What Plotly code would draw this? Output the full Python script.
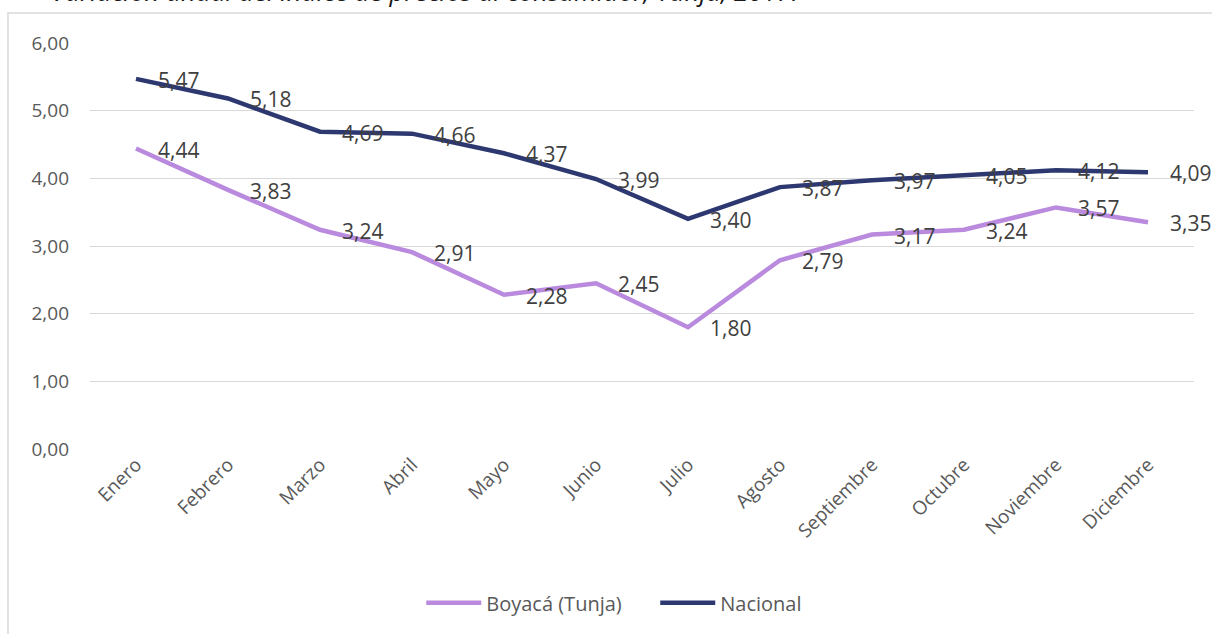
import plotly.graph_objects as go

meses = ["Enero", "Febrero", "Marzo", "Abril", "Mayo", "Junio", "Julio",
         "Agosto", "Septiembre", "Octubre", "Noviembre", "Diciembre"]
boyaca = [4.44, 3.83, 3.24, 2.91, 2.28, 2.45, 1.80, 2.79, 3.17, 3.24, 3.57, 3.35]
nacional = [5.47, 5.18, 4.69, 4.66, 4.37, 3.99, 3.40, 3.87, 3.97, 4.05, 4.12, 4.09]
titulo = "Variación anual del índice de precios al consumidor, Tunja, 2017."

FONT = "Open Sans"
C_BOY = "#B98ADD"
C_NAC = "#2E3870"

fig = go.Figure()
fig.add_trace(go.Scatter(x=meses, y=boyaca, mode="lines", name="Boyacá (Tunja)",
                         line=dict(color=C_BOY, width=4.5)))
fig.add_trace(go.Scatter(x=meses, y=nacional, mode="lines", name="Nacional",
                         line=dict(color=C_NAC, width=4.5)))

annotations = []
for serie in (boyaca, nacional):
    for m, v in zip(meses, serie):
        annotations.append(dict(x=m, y=v, xref="x", yref="y",
                                text=f"{v:.2f}".replace(".", ","),
                                showarrow=False, xanchor="left", yanchor="middle",
                                xshift=20, yshift=-1,
                                font=dict(family=FONT, size=21, color="#404040")))

annotations.append(dict(x=-0.037, y=1.0764, xref="paper", yref="paper", text=f"<i>{titulo}</i>",
                        showarrow=False, xanchor="left", yanchor="bottom", yshift=1,
                        font=dict(family=FONT, size=26, color="#1A1A1A")))

fig.update_layout(
    width=1212, height=634,
    margin=dict(l=90, r=18, t=43, b=185),
    paper_bgcolor="white", plot_bgcolor="white",
    separators=",.",
    showlegend=True,
    legend=dict(orientation="h", x=0.512, y=-0.379, xanchor="center", yanchor="middle",
                itemwidth=55, entrywidth=164,
                font=dict(family=FONT, size=20, color="#595959"), bgcolor="rgba(0,0,0,0)"),
    annotations=annotations,
    shapes=[dict(type="rect", xref="paper", yref="paper",
                 x0=-0.0743, x1=1.03, y0=-0.6, y1=1.0739,
                 line=dict(color="#D9D9D9", width=1.5), fillcolor="rgba(0,0,0,0)", layer="below")],
)
fig.update_xaxes(type="category", range=[-0.5, 11.5], showgrid=False, showline=False,
                 zeroline=False, tickangle=-45, ticks="",
                 tickfont=dict(family=FONT, size=19, color="#595959"))
fig.update_yaxes(range=[0, 6], dtick=1, tickformat=".2f", showgrid=True,
                 gridcolor="#D9D9D9", gridwidth=1, zeroline=False, showline=False,
                 ticklabelstandoff=20,
                 tickfont=dict(family=FONT, size=19, color="#595959"))

fig.write_html("out.html", config={"displayModeBar": False},
               post_script="document.body.style.margin='0';document.body.style.overflow='hidden';")
